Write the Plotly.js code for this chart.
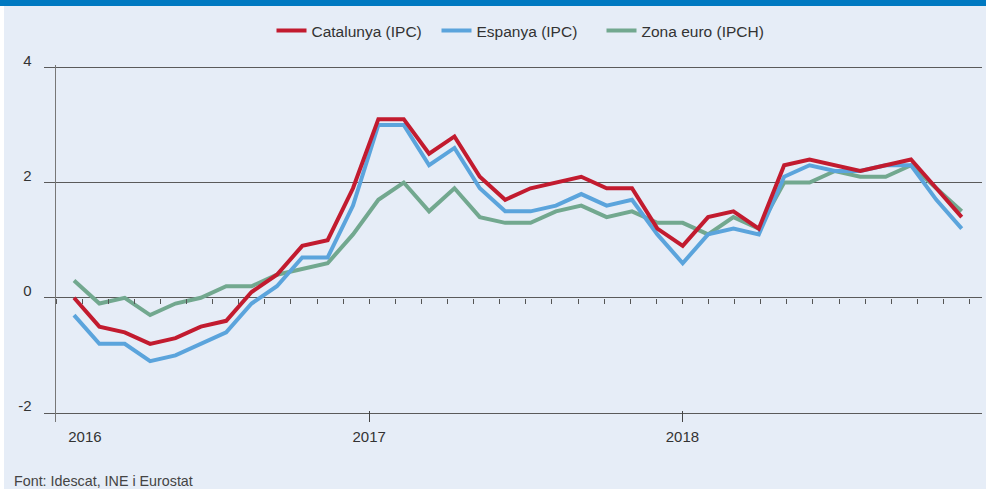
<!DOCTYPE html>
<html>
<head>
<meta charset="utf-8">
<script src="https://cdn.plot.ly/plotly-3.0.1.min.js"></script>
<style>
html,body{margin:0;padding:0;background:#E6EDF7;}
#chart{width:986px;height:489px;}
</style>
</head>
<body>
<div id="chart"></div>
<script>
// Monthly index, Jan 2016 .. Dec 2018
const months = Array.from({length: 36}, (_, i) => i);
const catalunya = [0.0,-0.5,-0.6,-0.8,-0.7,-0.5,-0.4,0.1,0.4,0.9,1.0,1.9,
                   3.1,3.1,2.5,2.8,2.1,1.7,1.9,2.0,2.1,1.9,1.9,1.2,
                   0.9,1.4,1.5,1.2,2.3,2.4,2.3,2.2,2.3,2.4,1.9,1.4];
const espanya   = [-0.3,-0.8,-0.8,-1.1,-1.0,-0.8,-0.6,-0.1,0.2,0.7,0.7,1.6,
                   3.0,3.0,2.3,2.6,1.9,1.5,1.5,1.6,1.8,1.6,1.7,1.1,
                   0.6,1.1,1.2,1.1,2.1,2.3,2.2,2.2,2.3,2.3,1.7,1.2];
const zonaEuro  = [0.3,-0.1,0.0,-0.3,-0.1,0.0,0.2,0.2,0.4,0.5,0.6,1.1,
                   1.7,2.0,1.5,1.9,1.4,1.3,1.3,1.5,1.6,1.4,1.5,1.3,
                   1.3,1.1,1.4,1.2,2.0,2.0,2.2,2.1,2.1,2.3,1.9,1.5];
const seriesNames = ['Catalunya (IPC)', 'Espanya (IPC)', 'Zona euro (IPCH)'];
const yearTickVals = [0, 12, 24];
const yearLabelVals = [1.11, 12, 24];
const yearLabels = ['2016', '2017', '2018'];
const yTicks = [-2, 0, 2, 4];
const yTickText = ['-2', '0', '2', '4'];

const FONT = 'Liberation Sans, Arial, sans-serif';
const colors = {cat: '#C21B2F', esp: '#5BA4DC', eur: '#72A88F'};

const traces = [
  {x: months, y: zonaEuro, name: seriesNames[2], type: 'scatter', mode: 'lines',
   line: {color: colors.eur, width: 4}, legendrank: 3},
  {x: months, y: espanya, name: seriesNames[1], type: 'scatter', mode: 'lines',
   line: {color: colors.esp, width: 4}, legendrank: 2},
  {x: months, y: catalunya, name: seriesNames[0], type: 'scatter', mode: 'lines',
   line: {color: colors.cat, width: 4}, legendrank: 1},
  // helper traces (no visible marks) so that the tick-only axes are drawn
  {x: yearTickVals, y: yearTickVals.map(() => null), xaxis: 'x2', yaxis: 'y',
   type: 'scatter', mode: 'lines', showlegend: false, hoverinfo: 'skip'},
  {x: yearLabelVals, y: yearLabelVals.map(() => null), xaxis: 'x3', yaxis: 'y',
   type: 'scatter', mode: 'lines', showlegend: false, hoverinfo: 'skip'},
  {x: months, y: months.map(() => null), xaxis: 'x4', yaxis: 'y',
   type: 'scatter', mode: 'lines', showlegend: false, hoverinfo: 'skip'}
];

const plotH = 489 - 65 - 67;
const plotW = 986 - 56 - 4;
const yRange = [-2.156, 4.04];
const monthRange = [0, plotW / 26.1];

const layout = {
  width: 986, height: 489,
  margin: {l: 56, r: 4, t: 65, b: 67},
  paper_bgcolor: '#E6EDF7',
  plot_bgcolor: '#E6EDF7',
  font: {family: FONT, size: 15, color: '#333333'},
  showlegend: true,
  legend: {
    orientation: 'h', x: 0.5, xanchor: 'center', xref: 'paper',
    y: 1 + (65 - 31) / plotH, yanchor: 'middle',
    font: {family: FONT, size: 15.5, color: '#333333'},
    bgcolor: 'rgba(0,0,0,0)', traceorder: 'normal',
    entrywidth: 120, entrywidthmode: 'pixels'
  },
  xaxis: {
    range: [-0.71, 35.8], visible: false, fixedrange: true
  },
  xaxis2: {
    overlaying: 'x', anchor: 'y', side: 'bottom', range: monthRange,
    tickmode: 'array', tickvals: yearTickVals, showticklabels: false,
    ticks: 'inside', ticklen: 11, tickcolor: '#444444', tickwidth: 1,
    showgrid: false, zeroline: false, showline: false
  },
  xaxis3: {
    overlaying: 'x', anchor: 'y', side: 'bottom', range: monthRange,
    tickmode: 'array', tickvals: yearLabelVals, ticktext: yearLabels,
    ticks: '', showgrid: false, zeroline: false, showline: false,
    tickfont: {family: FONT, size: 15, color: '#333333'},
    ticklabelstandoff: 4
  },
  xaxis4: {
    overlaying: 'x', anchor: 'free',
    position: (0 - yRange[0]) / (yRange[1] - yRange[0]),
    range: monthRange, tickmode: 'linear', tick0: 0, dtick: 1,
    ticks: 'outside', ticklen: 5, tickcolor: '#555555', tickwidth: 1,
    showticklabels: false, showgrid: false, zeroline: false, showline: false
  },
  yaxis: {
    range: yRange, tickmode: 'array', tickvals: yTicks, ticktext: yTickText,
    showgrid: true, gridcolor: '#5a5a5a', gridwidth: 1,
    zeroline: false, showline: true, linecolor: '#777777', linewidth: 1.5,
    ticks: 'outside', ticklen: 11, tickcolor: '#5a5a5a', tickwidth: 1,
    tickfont: {family: FONT, size: 15, color: '#333333'},
    ticklabelstandoff: 9, ticklabelshift: -7, fixedrange: true
  },
  shapes: [
    {type: 'rect', xref: 'paper', yref: 'paper', layer: 'above',
     x0: -56 / plotW, x1: 1 + 4 / plotW, y0: 1 + 59 / plotH, y1: 1 + 66 / plotH,
     fillcolor: '#0079C1', line: {width: 0}},
    {type: 'rect', xref: 'paper', yref: 'paper', layer: 'below',
     x0: -56 / plotW, x1: -52 / plotW, y0: -67 / plotH, y1: 1 + 59 / plotH,
     fillcolor: '#FFFFFF', line: {width: 0}}
  ],
  annotations: [
    {text: 'Font: Idescat, INE i Eurostat', xref: 'paper', yref: 'paper',
     x: (12 - 56) / plotW, xanchor: 'left', y: -(481 - 422) / plotH, yanchor: 'middle',
     showarrow: false, font: {family: FONT, size: 14.3, color: '#444444'}}
  ]
};

Plotly.newPlot('chart', traces, layout, {displayModeBar: false, staticPlot: true});
</script>
</body>
</html>
